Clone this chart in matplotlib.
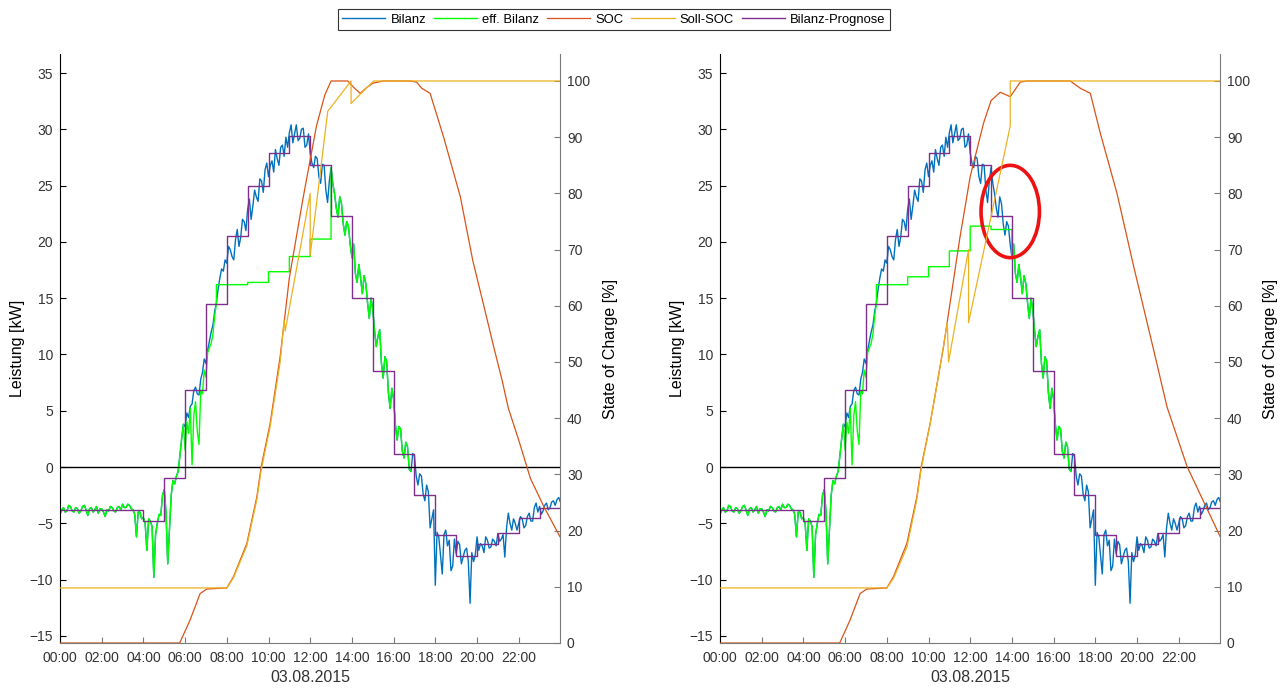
import numpy as np
import matplotlib
matplotlib.use('Agg')
import matplotlib.pyplot as plt
from matplotlib.patches import Ellipse

plt.rcParams['font.family'] = ['Liberation Sans', 'DejaVu Sans']

# ---- data (hours since midnight, 03.08.2015) ----
SPH = 12  # samples per hour (5 min)
# Bilanz, 5-minute samples from 00:00 to 24:00 [kW]
bilanz = [
    -4.2, -3.8, -3.6, -4.0, -3.9, -3.4, -3.5, -3.9, -4.0, -3.6, -3.7, -4.1,
    -3.9, -3.5, -3.4, -3.8, -4.3, -3.7, -3.6, -4.0, -3.8, -3.5, -4.1, -3.7,
    -3.7, -4.0, -4.4, -3.8, -3.9, -3.5, -3.6, -3.9, -4.0, -3.6, -3.5, -3.8,
    -3.3, -3.6, -3.6, -3.3, -3.4, -3.7, -3.8, -4.2, -6.2, -4.0, -4.0, -4.6,
    -4.5, -5.0, -7.4, -4.6, -4.8, -5.3, -9.8, -6.0, -5.0, -4.2, -4.3, -2.5,
    -2.0, -4.0, -8.6, -5.5, -2.5, -1.2, -1.5, -0.8, -0.4, 1.0, 2.5, 3.8,
    3.6, 4.8, 4.4, 5.4, 5.6, 6.8, 7.1, 6.5, 6.4, 7.8, 8.4, 9.6,
    9.2, 10.4, 11.2, 12.0, 12.6, 13.8, 14.6, 15.8, 16.8, 17.6, 17.4, 18.4,
    18.1, 19.6, 19.3, 18.7, 18.4, 20.2, 21.1, 19.6, 20.4, 22.0, 21.8, 21.0,
    22.9, 23.8, 22.0, 23.2, 24.6, 24.0, 23.6, 25.6, 25.4, 24.4, 26.4, 27.0,
    25.8, 26.8, 27.2, 26.2, 28.2, 27.4, 26.8, 28.4, 28.6, 27.6, 29.3, 28.4,
    29.7, 30.4, 28.8, 29.6, 30.4, 29.0, 29.2, 30.0, 30.1, 28.4, 28.6, 29.6,
    27.9, 27.0, 26.6, 27.6, 27.4, 25.8, 25.2, 26.9, 26.8, 24.6, 23.5, 25.4,
    26.6, 25.2, 24.3, 23.0, 22.2, 24.0, 23.4, 21.6, 20.6, 21.8, 21.4, 19.8,
    18.6, 19.8, 17.2, 16.4, 18.0, 16.8, 15.4, 17.0, 16.3, 14.6, 13.2, 15.0,
    14.0, 12.2, 10.7, 11.6, 12.2, 9.2, 7.9, 9.8, 9.4, 6.6, 5.2, 7.0,
    6.0, 3.8, 2.4, 3.6, 3.4, 1.4, 0.8, 2.2, 1.8, -0.2, -0.4, 1.2,
    1.0, -0.8, -1.6, -0.6, -0.8, -2.4, -3.0, -1.6, -2.2, -5.4, -4.6, -3.8,
    -10.5, -5.8, -6.2, -7.8, -9.5, -6.0, -5.6, -7.0, -6.5, -9.2, -8.8, -6.4,
    -7.7, -6.6, -6.9, -8.6, -8.0, -7.4, -7.2, -8.4, -12.1, -7.6, -8.4, -7.8,
    -6.2, -7.4, -6.8, -7.0, -7.6, -6.2, -6.5, -7.2, -7.1, -6.4, -6.6, -7.0,
    -5.9, -6.6, -6.4, -6.0, -8.0, -5.4, -4.1, -5.0, -5.6, -4.6, -5.0, -5.6,
    -5.0, -4.4, -4.6, -5.4, -5.2, -4.4, -4.1, -4.8, -4.8, -3.6, -3.2, -4.0,
    -3.5, -4.2, -3.9, -3.4, -3.2, -3.8, -3.6, -3.1, -3.0, -3.4, -2.9, -2.7,
    -3.1,
]
t = np.arange(len(bilanz)) / SPH

# eff. Bilanz 06:00 .. 07:30 (below Bilanz while charging), 5-minute samples
eff_dawn = [1.5, 4.0, 3.0, 5.2, 0.2, 4.6, 5.8, 3.2, 2.0, 6.8, 6.5, 8.6,
            8.0, 10.2, 10.6, 11.0, 11.8, 13.4, 14.5]
# flat eff. Bilanz while the battery absorbs the surplus
eff_step_h_left = [7.5, 9, 10, 11, 12, 13]
eff_step_v_left = [16.2, 16.4, 17.35, 18.7, 20.25]
eff_step_h_right = [7.5, 9, 10, 11, 12, 13, 14]
eff_step_v_right = [16.2, 16.9, 17.8, 19.2, 21.4, 21.1]
eff_end_h = 16 + 50 / 60

# hourly forecast [kW]
prognose = [-3.8, -3.8, -3.8, -3.8, -4.8, -1.0, 6.8, 14.5, 20.5, 25.0, 27.9, 29.4,
            26.8, 22.3, 15.0, 8.5, 1.2, -2.5, -6.0, -7.9, -6.8, -5.9, -4.5, -3.6]

# state of charge [%]
soc_h_left = [0, 5.74, 6.24, 6.72, 7.04, 8.0, 8.32, 8.96, 9.44, 9.65, 10.08, 10.56, 11.0,
              11.65, 12.3, 12.7, 13.0, 13.8, 14.1, 14.4, 14.7, 15.0, 15.5, 16.8, 17.1,
              17.35, 17.75, 18.4, 19.2, 19.8, 20.3, 20.8, 21.2, 21.5, 22.0, 22.56, 23.2, 23.98]
soc_left = [0, 0, 4.1, 8.8, 9.6, 9.8, 11.8, 17.7, 26, 31.4, 39.1, 51, 65,
            79, 92, 97.5, 100, 100, 98.8, 97.8, 98.8, 99.6, 100, 100, 99.8,
            98.7, 97.8, 90, 79.4, 68, 60.4, 52.7, 46.8, 41.8, 36.1, 29.3, 24.3, 18.9]
soll_h_left = [0, 8.0, 8.32, 8.96, 9.44, 9.65, 10.08, 10.56, 10.75, 10.8, 12.0, 12.0,
               12.84, 13.96, 13.96, 15.04, 23.98]
soll_left = [9.8, 9.8, 11.6, 17.3, 25.5, 30.8, 38.5, 50, 57.5, 55.5, 80, 69,
             94.6, 100, 96, 100, 100]

soc_h_right = [0, 5.74, 6.24, 6.72, 7.04, 8.0, 8.32, 8.96, 9.44, 9.65, 10.08, 10.72, 11.5,
               12.0, 12.64, 13.0, 13.44, 13.92, 14.4, 14.72, 16.8, 17.28, 17.76, 18.24,
               19.04, 19.84, 20.8, 21.44, 22.4, 23.98]
soc_right = [0, 0, 4.1, 8.8, 9.6, 9.8, 11.8, 17.7, 26, 31.4, 39.1, 52.7, 72,
             83, 92.5, 96.5, 98, 97.2, 99.8, 100, 100, 98.7, 97.8, 90.7,
             80, 67, 52.1, 42, 31.4, 19.0]
soll_h_right = [0, 8.0, 8.32, 8.96, 9.44, 9.65, 10.08, 10.5, 10.9, 10.96, 11.92, 11.92,
                13.92, 13.92, 23.98]
soll_right = [9.8, 9.8, 11.5, 17, 25.5, 31, 39, 48, 57, 50, 70, 57, 92, 100, 100]

xtick_h = list(range(0, 24, 2))
xtick_labels = ['%02d:00' % h for h in xtick_h]
date_label = '03.08.2015'
legend_labels = ['Bilanz', 'eff. Bilanz', 'SOC', 'Soll-SOC', 'Bilanz-Prognose']

C_BIL = '#0072BD'
C_EFF = '#00FF00'
C_SOC = '#D95319'
C_SOLL = '#EDB120'
C_PRO = '#7E2F8E'
C_TXT = '#333333'
C_AX = '#7a7a7a'


def eff_curve(step_h, step_v):
    """eff. Bilanz: measured in the morning, flat steps, measured again until evening."""
    i_dawn = 6 * SPH
    i_step = int(round(step_h[0] * SPH))
    xs = list(t[:i_step + 1])
    ys = list(bilanz[:i_dawn]) + eff_dawn
    for h0, h1, v in zip(step_h[:-1], step_h[1:], step_v):
        xs += [h0, h1]
        ys += [v, v]
    i0 = int(round(step_h[-1] * SPH))
    i1 = int(round(eff_end_h * SPH))
    xs += list(t[i0:i1 + 1])
    ys += list(bilanz[i0:i1 + 1])
    return xs, ys


fig = plt.figure(figsize=(12.85, 6.88), dpi=100)
W, H = 1285.0, 688.0

panels = [
    (60, eff_step_h_left, eff_step_v_left, soc_h_left, soc_left, soll_h_left, soll_left),
    (720, eff_step_h_right, eff_step_v_right, soc_h_right, soc_right, soll_h_right, soll_right),
]
handles = None
for k, (x0, sh, sv, sch, scv, slh, slv) in enumerate(panels):
    ax = fig.add_axes([x0 / W, 1 - 643 / H, 500 / W, (643 - 54) / H])
    ax2 = ax.twinx()

    h1, = ax.plot(t, bilanz, color=C_BIL, lw=1.0)
    ex, ey = eff_curve(sh, sv)
    h2, = ax.plot(ex, ey, color=C_EFF, lw=1.0)
    ph = list(range(25))
    h5, = ax.plot(ph, prognose + [prognose[-1]], color=C_PRO, lw=1.0, drawstyle='steps-post')
    ax.axhline(0, color='black', lw=1.0)

    h3, = ax2.plot(sch, scv, color=C_SOC, lw=0.9)
    h4, = ax2.plot(slh, slv, color=C_SOLL, lw=0.9)

    ax.set_xlim(0, 23.98)
    ax.set_ylim(-15.63, 36.69)
    ax2.set_ylim(0, 104.8)
    ax.set_yticks(range(-15, 36, 5))
    ax2.set_yticks(range(0, 101, 10))
    ax.set_xticks(xtick_h)
    ax.set_xticklabels(xtick_labels)

    for a in (ax, ax2):
        a.spines['top'].set_visible(False)
        a.tick_params(direction='in', length=4, width=0.8, labelsize=10,
                      colors=C_AX, labelcolor=C_TXT)
    ax.spines['left'].set_color('black')
    ax.spines['bottom'].set_color(C_AX)
    ax.spines['right'].set_visible(False)
    ax2.spines['right'].set_color(C_AX)
    ax2.spines['left'].set_visible(False)
    ax2.spines['bottom'].set_visible(False)
    ax.tick_params(axis='y', colors='black', labelcolor=C_TXT, pad=5)
    ax.tick_params(axis='x', pad=6)
    ax2.tick_params(axis='y', pad=5)

    ax.set_ylabel('Leistung [kW]', fontsize=11.5, color='black', labelpad=3)
    ax2.set_ylabel('State of Charge [%]', fontsize=11.5, color='black', labelpad=9)
    ax.set_xlabel(date_label, fontsize=11.5, color=C_TXT, labelpad=3)

    if k == 1:
        ax.add_patch(Ellipse((13.92, 22.7), 2.8, 8.2, fill=False,
                             edgecolor='#ee1111', lw=2.6, zorder=10))
    handles = [h1, h2, h3, h4, h5]

leg = fig.legend(handles, legend_labels,
                 loc='center', bbox_to_anchor=(614 / W, 1 - 19.5 / H), ncol=5,
                 fontsize=9.4, frameon=True, fancybox=False, handlelength=3.3,
                 columnspacing=0.6, handletextpad=0.4, borderpad=0.35)
leg.get_frame().set_edgecolor('black')
leg.get_frame().set_linewidth(0.8)

fig.savefig('out.png', dpi=100)
